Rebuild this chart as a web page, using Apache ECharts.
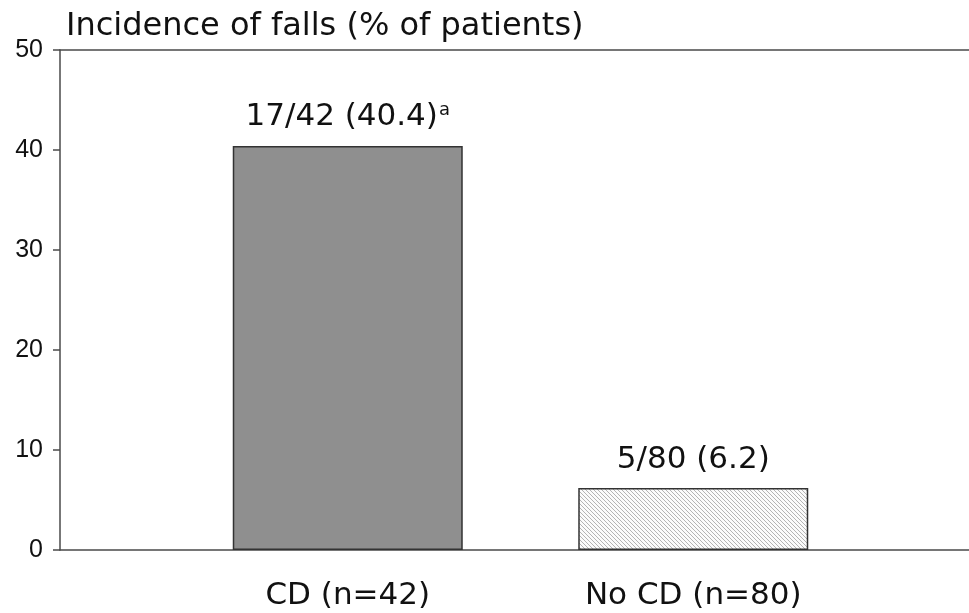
<!DOCTYPE html>
<html>
<head>
<meta charset="utf-8">
<script src="https://cdn.jsdelivr.net/npm/echarts@6/dist/echarts.min.js"></script>
<style>html,body{margin:0;padding:0;background:#fff}#c{width:969px;height:613px}</style>
</head>
<body>
<div id="c"></div>
<script>
const categories = ["CD (n=42)", "No CD (n=80)"];
const values = [40.4, 6.2];
const barLabels = ["17/42 (40.4)", "5/80 (6.2)"];
const superscripts = ["a", ""];
const yTicks = [0, 10, 20, 30, 40, 50];
const titleText = "Incidence of falls (% of patients)";

function hatch() {
  const s = 4;
  const c = document.createElement('canvas');
  c.width = s; c.height = s;
  const g = c.getContext('2d');
  g.fillStyle = '#fbfbfb';
  g.fillRect(0, 0, s, s);
  g.strokeStyle = '#b4b4b4';
  g.lineWidth = 1;
  g.beginPath();
  g.moveTo(-1, -1); g.lineTo(s + 1, s + 1);
  g.moveTo(-1, s - 1); g.lineTo(1, s + 1);
  g.moveTo(s - 1, -1); g.lineTo(s + 1, 1);
  g.stroke();
  return c;
}

const fills = ['#8f8f8f', {image: hatch(), repeat: 'repeat'}];
const wideFont = 'DejaVu Sans, Verdana, sans-serif';
const tickFont = 'Liberation Sans, Arial, sans-serif';
const lineCol = '#4a4a4a';

const chart = echarts.init(document.getElementById('c'), null, {renderer: 'canvas'});
chart.setOption({
  animation: false,
  title: {
    text: titleText, left: 61, top: 6,
    textStyle: {fontFamily: wideFont, fontSize: 32, fontWeight: 'normal', color: '#111'}
  },
  grid: [
    {left: 60, right: 0, top: 50, bottom: 63},
    {left: 175, right: 103, top: 50, bottom: 63}
  ],
  xAxis: [
    {type: 'category', gridIndex: 0, data: [''], axisLine: {show: true, lineStyle: {color: lineCol, width: 1.5}}, axisTick: {show: false}, axisLabel: {show: false}},
    {type: 'category', gridIndex: 1, data: categories, axisLine: {show: false}, axisTick: {show: false},
     axisLabel: {margin: 30, fontFamily: wideFont, fontSize: 31, color: '#111'}},
    {type: 'category', gridIndex: 0, position: 'top', data: [''], axisLine: {show: true, lineStyle: {color: lineCol, width: 1.5}}, axisTick: {show: false}, axisLabel: {show: false}}
  ],
  yAxis: [
    {type: 'value', gridIndex: 0, min: yTicks[0], max: yTicks[yTicks.length - 1], interval: 10,
     axisLine: {show: true, lineStyle: {color: lineCol, width: 1.5}},
     axisTick: {show: true, length: 7, lineStyle: {color: lineCol, width: 1.5}},
     axisLabel: {margin: 17, fontFamily: tickFont, fontSize: 25, color: '#111'},
     splitLine: {show: false}},
    {type: 'value', gridIndex: 1, min: yTicks[0], max: yTicks[yTicks.length - 1], show: false, splitLine: {show: false}}
  ],
  series: [{
    type: 'bar', xAxisIndex: 1, yAxisIndex: 1, barWidth: 230,
    data: values.map((v, i) => ({
      value: v,
      itemStyle: {color: fills[i], borderColor: '#333', borderWidth: 1.5},
      label: {
        show: true, position: 'top', distance: 13,
        formatter: () => barLabels[i] + (superscripts[i] ? '{sup|' + superscripts[i] + '}' : ''),
        fontFamily: wideFont, fontSize: 31, color: '#111',
        rich: {sup: {fontFamily: wideFont, fontSize: 18, color: '#111', verticalAlign: 'top', padding: [0, 0, 14, 1]}}
      }
    }))
  }]
});
</script>
</body>
</html>
